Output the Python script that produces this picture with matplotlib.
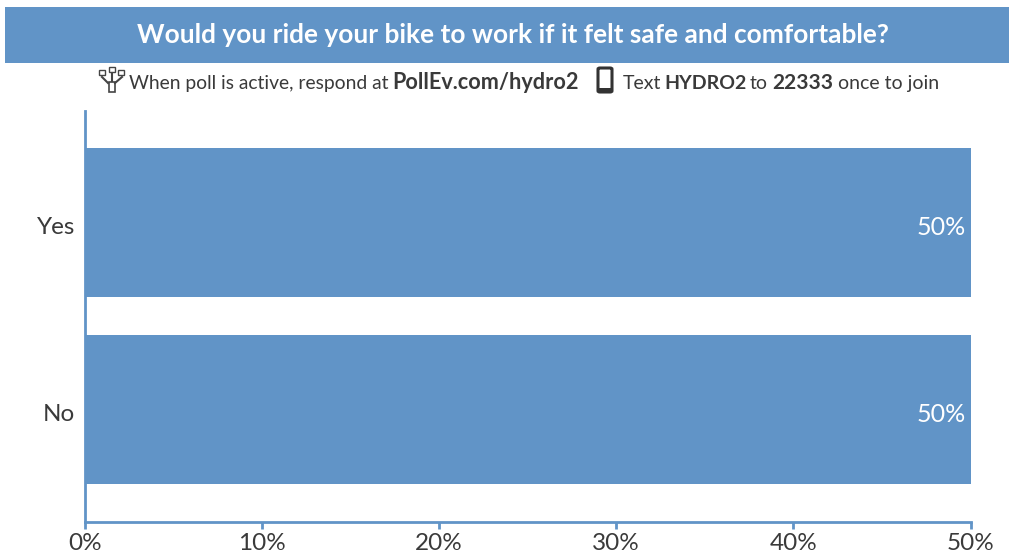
import matplotlib
matplotlib.use('Agg')
import matplotlib.pyplot as plt
from matplotlib.patches import Rectangle, FancyBboxPatch
from matplotlib.transforms import ScaledTranslation

categories = ['Yes', 'No']
values = [50, 50]
ticks = [0, 10, 20, 30, 40, 50]

W, H = 1009, 556
blue = '#6194c7'
dark = '#3a3a3a'

plt.rcParams['font.family'] = ['Lato', 'DejaVu Sans']

fig = plt.figure(figsize=(W / 100, H / 100), dpi=100)

def fx(x):
	return x / W

def fy(y):
	return 1 - y / H

# banner
fig.add_artist(Rectangle((fx(5), fy(63)), (W - 5) / W, 56 / H, transform=fig.transFigure, color=blue, lw=0))
fig.text(fx(513), fy(35), 'Would you ride your bike to work if it felt safe and comfortable?',
	color='white', fontsize=18.9, fontweight='bold', ha='center', va='center')

# instructions line, one piece at a time because of the bold words
parts = [
	(129, 'When poll is active, respond at', 'normal', 13.9),
	(392, 'PollEv.com/hydro2', 'bold', 15.6),
	(623, 'Text', 'normal', 14),
	(664, 'HYDRO2', 'bold', 14),
	(750, 'to', 'normal', 14),
	(772, '22333', 'bold', 15),
	(838, 'once to join', 'normal', 14),
]
for x, s, w, size in parts:
	fig.text(fx(x), fy(89), s, color=dark, fontsize=size, fontweight=w, ha='left', va='baseline')

# phone icon
fig.add_artist(FancyBboxPatch((fx(598), fy(92)), 14 / W, 24 / H, boxstyle='round,pad=0,rounding_size=0.002',
	transform=fig.transFigure, fc='white', ec='#333333', lw=2.2))
fig.add_artist(Rectangle((fx(598), fy(92)), 14 / W, 4 / H, transform=fig.transFigure, color='#333333', lw=0))

# poll icon
for bx, top in [(99, 70), (109, 67), (118, 70)]:
	fig.add_artist(Rectangle((fx(bx), fy(top + 5)), 6 / W, 5 / H, transform=fig.transFigure, fc='white', ec='#444444', lw=1))
fig.add_artist(Rectangle((fx(108.5), fy(92)), 6 / W, 10 / H, transform=fig.transFigure, fc='white', ec='#444444', lw=1.2))
fig.add_artist(plt.Line2D([fx(112), fx(112)], [fy(73), fy(81)], color='#444444', lw=1.5))
fig.add_artist(plt.Line2D([fx(102), fx(108)], [fy(77), fy(83)], color='#444444', lw=1.5))
fig.add_artist(plt.Line2D([fx(122), fx(115)], [fy(77), fy(83)], color='#444444', lw=1.5))

# chart
ax = fig.add_axes([fx(85), fy(522), (970.5 - 85) / W, (522 - 111) / H])
ypos = range(len(categories))
ax.barh(ypos, values, height=0.797, color=blue)
ax.set_xlim(0, 50)
ax.set_ylim(1.6, -0.596)
ax.set_yticks(list(ypos))
ax.set_yticklabels(categories, va='center_baseline')
ax.set_xticks(ticks)
ax.set_xticklabels([str(t) + '%' for t in ticks])
ax.tick_params(axis='y', length=0, pad=7, labelsize=17.5, labelcolor=dark)
ax.tick_params(axis='x', length=5, width=2, color=blue, pad=3, labelsize=17.5, labelcolor=dark)
for s in ['top', 'right']:
	ax.spines[s].set_visible(False)
for s in ['left', 'bottom']:
	ax.spines[s].set_color(blue)
	ax.spines[s].set_linewidth(2)

# labels sit a bit lower than centre in the original
down = ScaledTranslation(0, -2.5 / 100, fig.dpi_scale_trans)
for lab in ax.get_yticklabels():
	lab.set_transform(lab.get_transform() + down)

for i, v in enumerate(values):
	ax.text(v - 0.27, i, str(v) + '%', color='white', fontsize=18, ha='right', va='center_baseline',
		transform=ax.transData + down)

fig.savefig('out.png', dpi=100)
